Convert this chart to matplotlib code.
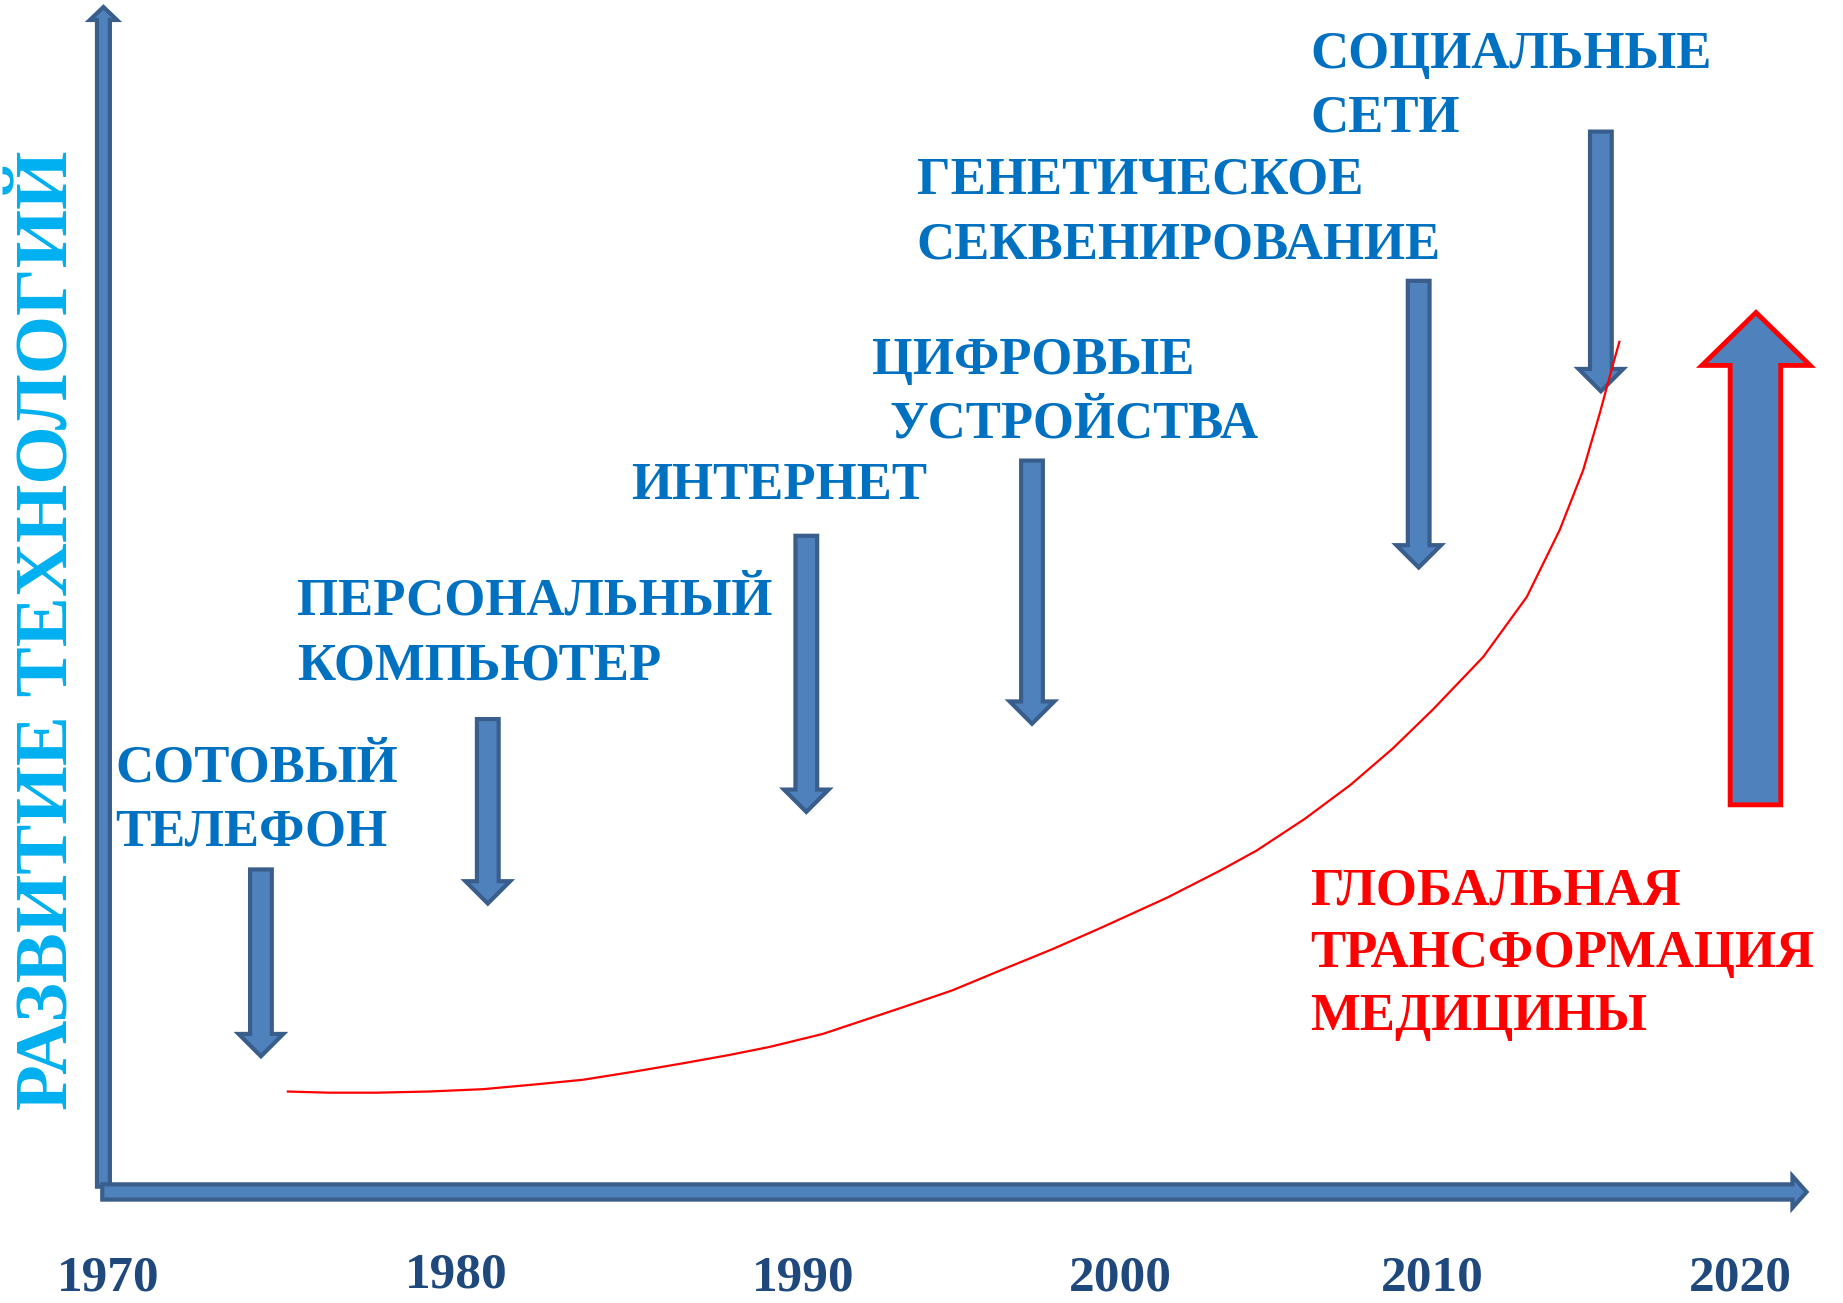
import matplotlib.pyplot as plt
from matplotlib.patches import Polygon

# canvas coordinates follow the reference picture (1568 x 1109 units, y down)
W, H = 1568, 1109

# years under the x axis
years = ["1970", "1980", "1990", "2000", "2010", "2020"]
year_x = [92, 388, 683, 953, 1219, 1481]
year_base = [1098, 1096, 1098, 1098, 1098, 1098]

# technology labels, one entry per line: text, left x, baseline y
label_lines = ["СОТОВЫЙ", "ТЕЛЕФОН",
               "ПЕРСОНАЛЬНЫЙ", "КОМПЬЮТЕР",
               "ИНТЕРНЕТ",
               "ЦИФРОВЫЕ", "УСТРОЙСТВА",
               "ГЕНЕТИЧЕСКОЕ", "СЕКВЕНИРОВАНИЕ",
               "СОЦИАЛЬНЫЕ", "СЕТИ"]
label_x = [98, 98, 253, 253, 537, 742, 757, 780, 780, 1115, 1115]
label_base = [665, 720, 523, 578, 425, 318, 372, 165, 220, 58, 112]

red_lines = ["ГЛОБАЛЬНАЯ", "ТРАНСФОРМАЦИЯ", "МЕДИЦИНЫ"]
red_x = [1115, 1115, 1115]
red_base = [770, 823, 877]

# down arrows: centre x, top of shaft, tip
arrow_x = [222, 415, 686, 878, 1207, 1362]
arrow_top = [740, 612, 456, 392, 239, 112]
arrow_tip = [899, 769, 691, 616, 483, 333]

# growth curve
curve_x = [244, 280, 320, 365, 411, 455, 496, 540, 581, 620, 655, 700, 766,
           810, 851, 895, 936, 993, 1038, 1069, 1110, 1149, 1185, 1219, 1262,
           1299, 1327, 1347, 1361, 1371, 1378]
curve_y = [929, 930, 930, 929, 927, 923, 919, 912, 905, 898, 891, 880, 858,
           843, 826, 808, 790, 764, 741, 724, 697, 668, 637, 604, 559, 508,
           451, 400, 352, 315, 290]

BLUE_FILL = "#4F81BD"
BLUE_EDGE = "#3A5E8C"
TEXT_BLUE = "#0070C0"
YEAR_BLUE = "#1F497D"
CYAN = "#00B0F0"
FONT = "Liberation Serif"


def down_arrow(x, top, tip, shaft=18.5, head=38, head_len=19):
    base = tip - head_len
    return [(x - shaft / 2, top), (x + shaft / 2, top), (x + shaft / 2, base),
            (x + head / 2, base), (x, tip), (x - head / 2, base),
            (x - shaft / 2, base)]


fig = plt.figure(figsize=(18.43, 13.03), dpi=100)
ax = fig.add_axes([0, 0, 1, 1])
ax.set_xlim(0, W)
ax.set_ylim(H, 0)
ax.axis('off')

# y axis arrow
yax = [(82.5, 1010), (93.5, 1010), (93.5, 17), (99.5, 17), (88, 6),
       (76.5, 17), (82.5, 17)]
ax.add_patch(Polygon(yax, closed=True, fc=BLUE_FILL, ec=BLUE_EDGE, lw=3, zorder=3))
# x axis arrow
xax = [(87, 1008), (1525, 1008), (1525, 1001), (1537, 1014.5),
       (1525, 1028), (1525, 1021), (87, 1021)]
ax.add_patch(Polygon(xax, closed=True, fc=BLUE_FILL, ec=BLUE_EDGE, lw=3, zorder=3))

# technology arrows
for x, t, p in zip(arrow_x, arrow_top, arrow_tip):
    ax.add_patch(Polygon(down_arrow(x, t, p), closed=True, fc=BLUE_FILL,
                         ec=BLUE_EDGE, lw=3, zorder=3))

# big arrow with red outline
big = [(1472, 685), (1515, 685), (1515, 311), (1540, 311), (1494, 266),
       (1448, 311), (1472, 311)]
ax.add_patch(Polygon(big, closed=True, fc=BLUE_FILL, ec="#FF0000", lw=3.5,
                     joinstyle='miter', zorder=3))

# growth curve
ax.plot(curve_x, curve_y, color="#FF0000", lw=1.6, zorder=4,
        solid_capstyle='butt', solid_joinstyle='round')

# texts
for txt, x, y in zip(label_lines, label_x, label_base):
    ax.text(x, y, txt, color=TEXT_BLUE, fontsize=38, fontweight='bold',
            family=FONT, ha='left', va='baseline')
for txt, x, y in zip(red_lines, red_x, red_base):
    ax.text(x, y, txt, color="#FF0000", fontsize=38, fontweight='bold',
            family=FONT, ha='left', va='baseline')
for txt, x, y in zip(years, year_x, year_base):
    ax.text(x, y, txt, color=YEAR_BLUE, fontsize=37, fontweight='bold',
            family=FONT, ha='center', va='baseline')

ax.text(42, 536, "РАЗВИТИЕ ТЕХНОЛОГИЙ", color=CYAN, fontsize=54,
        fontweight='bold', family=FONT, rotation=90, ha='center', va='center')

fig.savefig("out.png", dpi=100)
